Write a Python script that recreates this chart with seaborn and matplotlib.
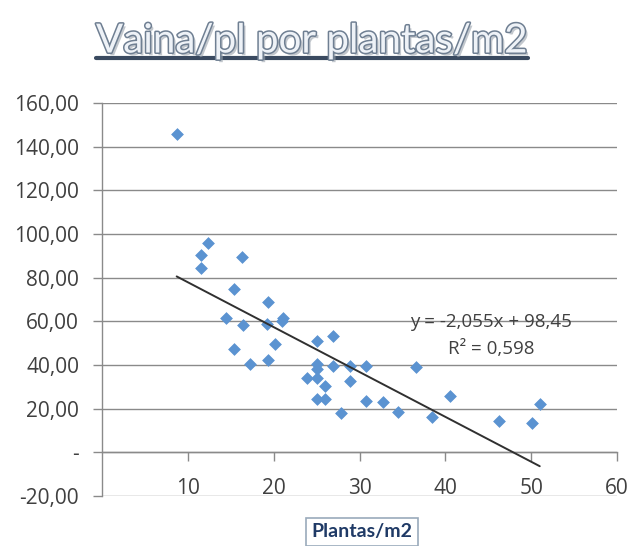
import numpy as np
import pandas as pd
import matplotlib
matplotlib.use("Agg")
import matplotlib.pyplot as plt
import matplotlib.patheffects as pe
from matplotlib.lines import Line2D
import seaborn as sns

# ---- data ----
plantas_m2 = [8.7, 11.5, 11.5, 12.4, 16.3, 15.4, 19.3, 14.4, 16.4, 19.2, 21.1, 21.0,
              15.4, 20.2, 17.2, 19.3, 25.0, 26.9, 25.0, 25.0, 26.9, 28.9, 30.8, 23.9,
              25.0, 26.0, 28.9, 25.0, 26.0, 27.9, 30.8, 32.7, 34.5, 36.6, 38.5, 40.5,
              46.2, 50.1, 51.0]
vaina_pl = [146.0, 90.6, 84.5, 95.9, 89.4, 74.8, 69.0, 61.5, 58.4, 59.0, 61.5, 60.0,
            47.1, 49.4, 40.5, 42.3, 50.9, 53.5, 40.5, 38.0, 39.4, 39.4, 39.4, 33.9,
            33.9, 30.3, 32.6, 24.5, 24.5, 18.0, 23.7, 22.9, 18.3, 39.0, 16.3, 25.7,
            14.5, 13.4, 22.2]
trend_slope = -2.055
trend_intercept = 98.45
r_squared = 0.598
y_ticks = [-20, 0, 20, 40, 60, 80, 100, 120, 140, 160]
y_tick_labels = ["-20,00", "-", "20,00", "40,00", "60,00", "80,00", "100,00",
                 "120,00", "140,00", "160,00"]
x_ticks = [10, 20, 30, 40, 50, 60]
x_tick_labels = ["10", "20", "30", "40", "50", "60"]
title = "Vaina/pl por plantas/m2"
x_label = "Plantas/m2"
eq_text = "y = -2,055x + 98,45"
r2_text = "R² = 0,598"

df = pd.DataFrame({"x": plantas_m2, "y": vaina_pl})

sns.set_style("white")
plt.rcParams["font.family"] = ["Open Sans", "DejaVu Sans"]

fig = plt.figure(figsize=(6.34, 5.46), dpi=100)
ax = fig.add_axes([102 / 634, 1 - 496 / 546, (617 - 102) / 634, (496 - 103) / 546])

sns.scatterplot(data=df, x="x", y="y", marker="D", s=36, color="#5b93d1",
                edgecolor="#5b93d1", linewidth=0.5, ax=ax, zorder=3)

xs = np.array([min(plantas_m2), max(plantas_m2)])
ax.plot(xs, trend_slope * xs + trend_intercept, color="#303030", lw=1.4, zorder=4)

ax.set_xlim(0, 60)
ax.set_ylim(-20, 160)
ax.set_yticks(y_ticks)
ax.set_yticklabels(y_tick_labels)
ax.set_xticks(x_ticks)
ax.set_xticklabels(x_tick_labels)
ax.set_xlabel("")
ax.set_ylabel("")

grid_c = "#8a8a8a"
ax.yaxis.grid(True, color=grid_c, lw=1.0)
ax.xaxis.grid(False)
ax.set_axisbelow(True)
for s in ["top", "right"]:
    ax.spines[s].set_visible(False)
ax.spines["left"].set_color(grid_c)
ax.spines["left"].set_linewidth(1.0)
ax.spines["bottom"].set_position(("data", 0))
ax.spines["bottom"].set_color(grid_c)
ax.spines["bottom"].set_linewidth(1.0)

ax.tick_params(axis="y", which="both", direction="out", length=6.5, width=1,
               color=grid_c, pad=10, labelsize=15, labelcolor="#404040", left=True)
ax.tick_params(axis="x", which="both", direction="out", length=6.5, width=1,
               color=grid_c, pad=12, labelsize=15, labelcolor="#404040", bottom=True)

fig.text(491 / 634, 1 - 322 / 546, eq_text, ha="center", va="center",
         fontsize=13.5, color="#404040")
fig.text(491 / 634, 1 - 349 / 546, r2_text, ha="center", va="center",
         fontsize=13.5, color="#404040")

fig.text(362 / 634, 1 - 532 / 546, x_label, ha="center", va="center",
         fontsize=14, fontweight="bold", color="#1f3a66", family=["Lato", "DejaVu Sans"],
         bbox=dict(boxstyle="square,pad=0.3", fc="white", ec="#9aaabb", lw=1.2))

t = fig.text(312 / 634, 1 - 41 / 546, title, ha="center", va="center",
             fontsize=29, fontweight="normal", color="#eef2f7", family=["Lato", "DejaVu Sans"],
             path_effects=[pe.withSimplePatchShadow(offset=(2, -2), shadow_rgbFace="#9aa3ad", alpha=0.6),
                           pe.Stroke(linewidth=2.2, foreground="#6f7f92"),
                           pe.Normal()])
fig.canvas.draw()
bb = t.get_window_extent()
uy = bb.y0 + 2
fig.add_artist(Line2D([bb.x0 / 634, bb.x1 / 634], [uy / 546, uy / 546],
                      transform=fig.transFigure, color="#3a4a60", lw=3))

fig.savefig("out.png", dpi=100)
